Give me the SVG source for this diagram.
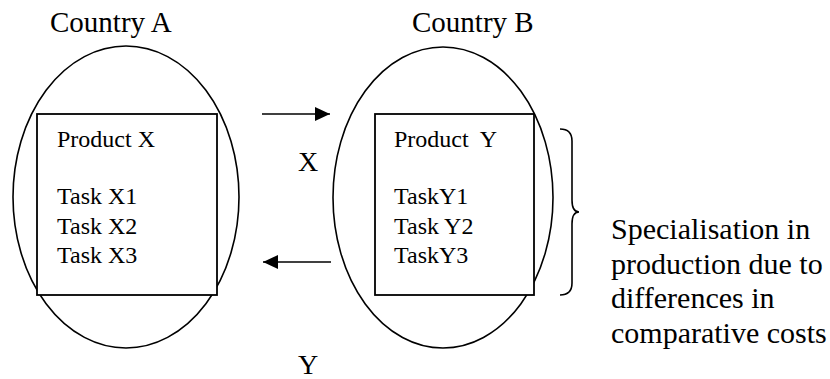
<svg xmlns="http://www.w3.org/2000/svg" width="830" height="379" viewBox="0 0 830 379">
<style>
text { font-family: 'Liberation Serif', 'DejaVu Serif', serif; fill: #000; }
.title { font-size: 29px; }
.body { font-size: 24px; }
.lbl { font-size: 28px; }
.note { font-size: 30px; }
.oval { fill: none; stroke: #000; stroke-width: 1.6; }
.box { fill: #fff; stroke: #000; stroke-width: 1.8; }
.conn { fill: none; stroke: #000; stroke-width: 1.6; }
</style>
<defs>
<marker id="arrow" viewBox="0 0 15 14" refX="15" refY="7" markerWidth="15" markerHeight="14" markerUnits="userSpaceOnUse" orient="auto">
<path d="M0,0 L15,7 L0,14 Z" fill="#000"/>
</marker>
</defs>
<rect width="830" height="379" fill="#fff"/>
<g id="countryA">
<text class="title" x="50" y="32">Country A</text>
<ellipse class="oval" cx="126" cy="197" rx="113" ry="151"/>
<rect class="box" x="37" y="114" width="180" height="181"/>
<text class="body" x="57" y="147">Product X</text>
<text class="body" x="57" y="204">Task X1</text>
<text class="body" x="57" y="233.5">Task X2</text>
<text class="body" x="57" y="263">Task X3</text>
</g>
<g id="countryB">
<text class="title" x="412" y="32">Country B</text>
<ellipse class="oval" cx="443" cy="197.5" rx="110" ry="150.5"/>
<rect class="box" x="375" y="114" width="159" height="181"/>
<text class="body" x="394" y="147" xml:space="preserve">Product  Y</text>
<text class="body" x="394" y="204">TaskY1</text>
<text class="body" x="394" y="233.5">Task Y2</text>
<text class="body" x="394" y="263">TaskY3</text>
</g>
<g id="connectors">
<line class="conn" x1="262" y1="114" x2="330" y2="114" marker-end="url(#arrow)"/>
<line class="conn" x1="331" y1="262" x2="263" y2="262" marker-end="url(#arrow)"/>
<text class="lbl" x="298" y="171">X</text>
<text class="lbl" x="298" y="374">Y</text>
</g>
<g id="specialisation">
<path class="conn" d="M560,129 Q572,129 572,141 L572,200 Q572,212 579,212 Q572,212 572,224 L572,283 Q572,295 560,295"/>
<text class="note" x="611" y="239">Specialisation in</text>
<text class="note" x="611" y="273.6">production due to</text>
<text class="note" x="611" y="308.2">differences in</text>
<text class="note" x="611" y="342.8">comparative costs</text>
</g>
</svg>
